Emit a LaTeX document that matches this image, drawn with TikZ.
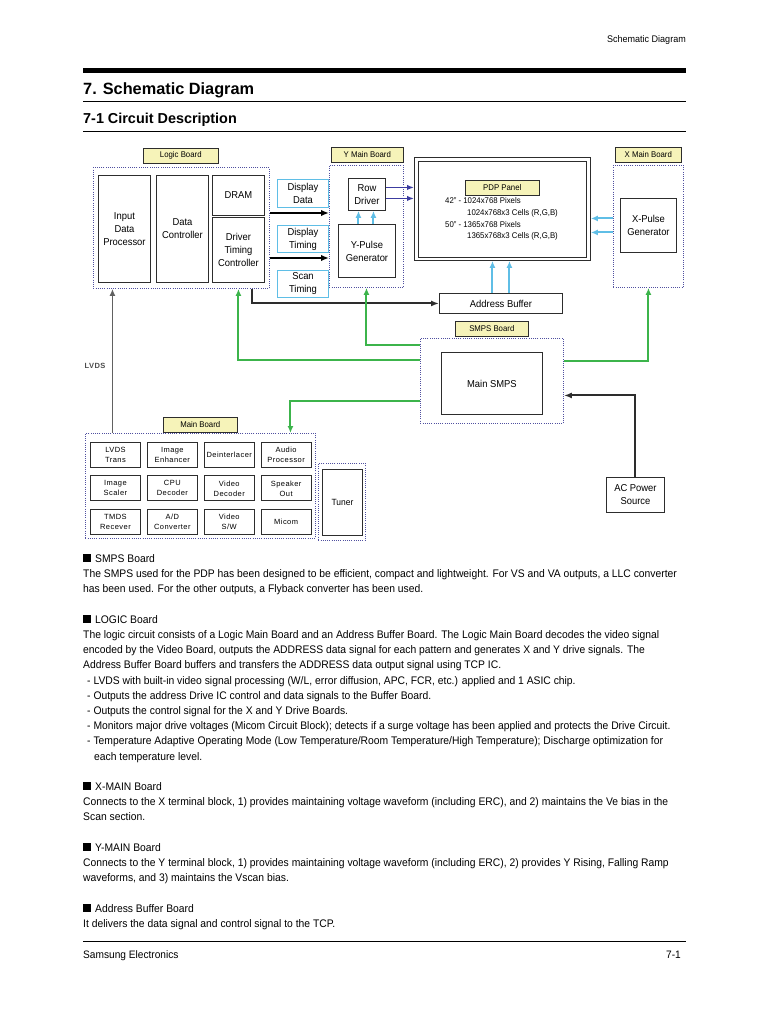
\documentclass[tikz,border=0pt]{standalone}
\usepackage{fontspec}
\setmainfont{Liberation Sans}[FakeStretch=0.94]
\newfontfamily\headfont{Liberation Sans}
\newfontfamily\spfont{Liberation Sans}[LetterSpace=6]
\usetikzlibrary{arrows.meta,positioning,calc}
\definecolor{lblyellow}{RGB}{246,243,185}
\definecolor{dotblue}{RGB}{80,80,160}
\definecolor{sigcyan}{RGB}{95,190,230}
\definecolor{pwrgreen}{RGB}{60,180,75}
\definecolor{navyline}{RGB}{60,60,160}
\definecolor{darkline}{RGB}{45,45,45}

\begin{document}
\begin{tikzpicture}[x=1pt, y=-1pt, every node/.style={inner sep=0pt, font=\fontsize{10}{13}\selectfont},
  blk/.style={draw=darkline, line width=0.9pt, align=center, anchor=north west},
  lbl/.style={draw=darkline, line width=0.6pt, fill=lblyellow, anchor=north west, minimum height=15pt, font=\fontsize{8.3}{9}\selectfont},
  board/.style={draw=dotblue, line width=0.9pt, dash pattern=on 1pt off 1.2pt, anchor=north west},
  sig/.style={draw=sigcyan, line width=1pt, align=center, anchor=north west, minimum width=51pt},
  mbox/.style={draw=darkline, line width=0.9pt, align=center, minimum width=50pt, minimum height=25pt, font=\spfont\fontsize{7.5}{10}\selectfont},
  para/.style={anchor=north west, align=left, font=\fontsize{11}{15.2}\selectfont},
  bigarrow/.style={-{Latex[length=8pt,width=6.5pt]}, line width=2.8pt},
  blkarrow/.style={-{Latex[length=8pt,width=6pt]}, line width=2pt, draw=darkline},
  navyarrow/.style={-{Latex[length=7pt,width=5.5pt]}, line width=1.6pt, draw=navyline},
  cyanarrow/.style={-{Latex[length=7pt,width=6pt]}, line width=2pt, draw=sigcyan},
  greenarrow/.style={-{Latex[length=7pt,width=6pt]}, line width=2pt, draw=pwrgreen}]
  \fill[white] (0,0) rectangle (768,1024);
  \useasboundingbox (0,0) rectangle (768,1024);

  % page header
  \node[anchor=east, font=\fontsize{9.6}{11}\selectfont] (hdr) at (686,40) {Schematic Diagram};
  \draw[line width=5pt] (83,70.5) -- (686,70.5);
  \node[anchor=base west, font=\headfont\fontsize{16.3}{20}\selectfont\bfseries] (title) at (83,95) {7. Schematic Diagram};
  \draw[line width=1.4pt] (83,101.5) -- (686,101.5);
  \node[anchor=base west, font=\headfont\fontsize{14.4}{17}\selectfont\bfseries] (subtitle) at (83,123.5) {7-1 Circuit Description};
  \draw[line width=1.4pt] (83,131.5) -- (686,131.5);

  % logic board
  \node[lbl, minimum width=75pt] (logiclbl) at (143,148) {Logic Board};
  \node[board, minimum width=176pt, minimum height=121pt] (logic) at (93,167) {};
  \node[blk, minimum width=52pt, minimum height=107pt] (idp) at (98,175) {Input\\Data\\Processor};
  \node[blk, minimum width=52pt, minimum height=107pt] (dc) at (156,175) {Data\\Controller};
  \node[blk, minimum width=52pt, minimum height=40pt] (dram) at (212,175) {DRAM};
  \node[blk, minimum width=52pt, minimum height=65pt] (dtc) at (212,217) {Driver\\Timing\\Controller};
  \node[sig, minimum height=28pt] (ddata) at (277,179) {Display\\Data};
  \node[sig, minimum height=27pt] (dtime) at (277,225) {Display\\Timing};
  \node[sig, minimum height=27pt] (stime) at (277,270) {Scan\\Timing};

  % y main board
  \node[lbl, minimum width=72pt] (ylbl) at (331,147) {Y Main Board};
  \node[board, minimum width=74pt, minimum height=122pt] (ybrd) at (329,165) {};
  \node[blk, minimum width=37pt, minimum height=32pt] (rowdrv) at (348,178) {Row\\Driver};
  \node[blk, minimum width=57pt, minimum height=53pt] (ypulse) at (338,224) {Y-Pulse\\Generator};

  % pdp panel
  \node[blk, minimum width=176pt, minimum height=103pt] (pdp) at (414,157) {};
  \node[blk, minimum width=168pt, minimum height=96pt] (pdpin) at (418,161) {};
  \node[lbl, minimum width=74pt] (pdplbl) at (465,180) {PDP Panel};
  \node[anchor=north west, align=left, font=\fontsize{8.3}{11.7}\selectfont] (pdptxt) at (445,197.5) {42" - 1024x768 Pixels\\\hspace*{22pt}1024x768x3 Cells (R,G,B)\\50" - 1365x768 Pixels\\\hspace*{22pt}1365x768x3 Cells (R,G,B)};

  % x main board
  \node[lbl, minimum width=66pt] (xlbl) at (615,147) {X Main Board};
  \node[board, minimum width=70pt, minimum height=122pt] (xbrd) at (613,165) {};
  \node[blk, minimum width=56pt, minimum height=54pt] (xpulse) at (620,198) {X-Pulse\\Generator};

  \node[blk, minimum width=123pt, minimum height=20pt] (abuf) at (439,293) {Address Buffer};

  % smps
  \node[lbl, minimum width=73pt] (smpslbl) at (455,321) {SMPS Board};
  \node[board, minimum width=143pt, minimum height=85pt] (smps) at (420,338) {};
  \node[blk, minimum width=101pt, minimum height=62pt] (msmps) at (441,352) {Main SMPS};
  \node[blk, minimum width=58pt, minimum height=35pt] (acpwr) at (606,477) {AC Power\\Source};

  % main board
  \node[lbl, minimum width=74pt] (mainlbl) at (163,417) {Main Board};
  \node[board, minimum width=230pt, minimum height=105pt] (mainbrd) at (85,433) {};
  \node[mbox, anchor=north west] (lvdstr) at (90,442) {LVDS\\Trans};
  \node[mbox, right=6pt of lvdstr] (imgenh) {Image\\Enhancer};
  \node[mbox, right=6pt of imgenh] (deint) {Deinterlacer};
  \node[mbox, right=6pt of deint] (audio) {Audio\\Processor};
  \node[mbox, below=7.5pt of lvdstr] (scaler) {Image\\Scaler};
  \node[mbox, right=6pt of scaler] (cpu) {CPU\\Decoder};
  \node[mbox, right=6pt of cpu] (viddec) {Video\\Decoder};
  \node[mbox, right=6pt of viddec] (spk) {Speaker\\Out};
  \node[mbox, below=7.5pt of scaler] (tmds) {TMDS\\Recever};
  \node[mbox, right=6pt of tmds] (adc) {A/D\\Converter};
  \node[mbox, right=6pt of adc] (vidsw) {Video\\S/W};
  \node[mbox, right=6pt of vidsw] (micom) {Micom};
  \node[board, minimum width=47pt, minimum height=77pt] (tunerbrd) at (318,463) {};
  \node[blk, minimum width=40pt, minimum height=66pt, font=\fontsize{9}{10}\selectfont] (tuner) at (322,469) {Tuner};

  % connectors
  \coordinate (dd) at ([yshift=-5pt]ddata.south);
  \coordinate (dt) at ([yshift=-5pt]dtime.south);
  \draw[bigarrow] (logic.east |- dd) -- (ybrd.west |- dd);
  \draw[bigarrow] (logic.east |- dt) -- (ybrd.west |- dt);
  \coordinate (r1) at ([yshift=7pt]rowdrv.east);
  \coordinate (r2) at ([yshift=-4pt]rowdrv.east);
  \draw[navyarrow] (r1) -- (r1 -| pdp.west);
  \draw[navyarrow] (r2) -- (r2 -| pdp.west);
  \coordinate (y1) at ([xshift=-8.5pt]ypulse.north);
  \coordinate (y2) at ([xshift=6.5pt]ypulse.north);
  \draw[cyanarrow] (y1) -- (y1 |- rowdrv.south);
  \draw[cyanarrow] (y2) -- (y2 |- rowdrv.south);
  \coordinate (x1) at ([yshift=8pt]xbrd.west);
  \coordinate (x2) at ([yshift=-6pt]xbrd.west);
  \draw[cyanarrow] (x1) -- (x1 -| pdp.east);
  \draw[cyanarrow] (x2) -- (x2 -| pdp.east);
  \coordinate (a1) at ([xshift=-8.5pt]abuf.north);
  \coordinate (a2) at ([xshift=8.5pt]abuf.north);
  \draw[cyanarrow] (a1) -- (a1 |- pdp.south);
  \draw[cyanarrow] (a2) -- (a2 |- pdp.south);
  \coordinate (t1) at ([xshift=14pt]dtc.south);
  \draw[blkarrow] (t1 |- logic.south) |- (abuf.west);
  \coordinate (g1) at ([yshift=20.5pt]smps.west);
  \coordinate (g2) at ([yshift=35.5pt]smps.west);
  \coordinate (g3) at ([yshift=-20.5pt]smps.west);
  \coordinate (g4) at ([yshift=19.5pt]smps.east);
  \coordinate (m1) at ([xshift=90pt]mainbrd.north);
  \draw[greenarrow] (g1) -| (dtc.south |- logic.south);
  \draw[greenarrow] (g2) -| (ybrd.south);
  \draw[greenarrow] (g3) -| (m1);
  \draw[greenarrow] (g4) -| (xbrd.south);
  \coordinate (s1) at ([yshift=-14.5pt]smps.east);
  \draw[blkarrow] (acpwr.north) |- (s1);
  \coordinate (l1) at ([xshift=-88pt]mainbrd.north);
  \draw[-{Latex[length=7pt,width=6pt]}, line width=1.9pt, draw=darkline!75] (l1) -- (l1 |- logic.south);
  \node[font=\spfont\fontsize{7.5}{8}\selectfont\bfseries, text=darkline!85] (lvdslbl) at (95,366) {LVDS};

  % text body
  \node[para] (smpstxt) at (83,554) {\rule{8pt}{8pt}\hspace{4pt}SMPS Board\\
The SMPS used for the PDP has been designed to be efficient, compact and lightweight. For VS and VA outputs, a LLC converter\\
has been used. For the other outputs, a Flyback converter has been used.};
  \node[para] (logictxt) at (83,615) {\rule{8pt}{8pt}\hspace{4pt}LOGIC Board\\
The logic circuit consists of a Logic Main Board and an Address Buffer Board. The Logic Main Board decodes the video signal\\
encoded by the Video Board, outputs the ADDRESS data signal for each pattern and generates X and Y drive signals. The\\
Address Buffer Board buffers and transfers the ADDRESS data output signal using TCP IC.\\
\hspace*{4pt}- LVDS with built-in video signal processing (W/L, error diffusion, APC, FCR, etc.) applied and 1 ASIC chip.\\
\hspace*{4pt}- Outputs the address Drive IC control and data signals to the Buffer Board.\\
\hspace*{4pt}- Outputs the control signal for the X and Y Drive Boards.\\
\hspace*{4pt}- Monitors major drive voltages (Micom Circuit Block); detects if a surge voltage has been applied and protects the Drive Circuit.\\
\hspace*{4pt}- Temperature Adaptive Operating Mode (Low Temperature/Room Temperature/High Temperature); Discharge optimization for\\
\hspace*{11pt}each temperature level.};
  \node[para] (xtxt) at (83,782) {\rule{8pt}{8pt}\hspace{4pt}X-MAIN Board\\
Connects to the X terminal block, 1) provides maintaining voltage waveform (including ERC), and 2) maintains the Ve bias in the\\
Scan section.};
  \node[para] (ytxt) at (83,843) {\rule{8pt}{8pt}\hspace{4pt}Y-MAIN Board\\
Connects to the Y terminal block, 1) provides maintaining voltage waveform (including ERC), 2) provides Y Rising, Falling Ramp\\
waveforms, and 3) maintains the Vscan bias.};
  \node[para] (abtxt) at (83,904) {\rule{8pt}{8pt}\hspace{4pt}Address Buffer Board\\
It delivers the data signal and control signal to the TCP.};

  % footer
  \draw[line width=0.8pt] (83,941) -- (686,941);
  \node[anchor=base west, font=\fontsize{10.8}{12}\selectfont] (ftl) at (83,958) {Samsung Electronics};
  \node[anchor=base east, font=\fontsize{10.8}{12}\selectfont] (ftr) at (681,958) {7-1};
\end{tikzpicture}
\end{document}
